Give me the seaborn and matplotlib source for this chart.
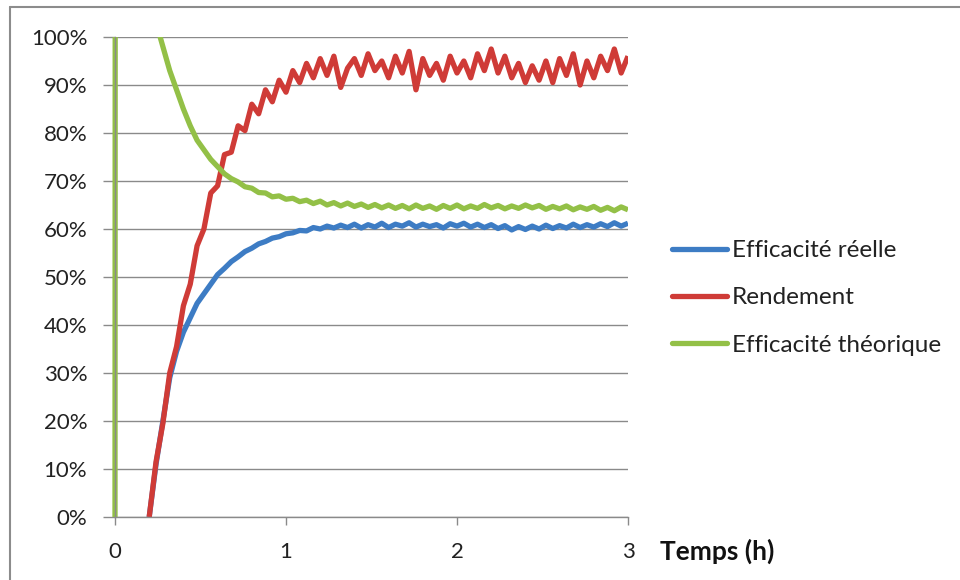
import numpy as np
import pandas as pd
import matplotlib
matplotlib.use("Agg")
import matplotlib.pyplot as plt
from matplotlib.lines import Line2D
from matplotlib.transforms import Bbox, TransformedBbox
from matplotlib.ticker import FuncFormatter
import seaborn as sns

# ---------------- data ----------------
time_h = [round(0.20 + 0.04 * i, 2) for i in range(71)]   # 0.20 .. 3.00 h

efficacite_reelle = [
    0.0, 11.0, 20.0, 29.0, 34.5, 38.5, 41.5, 44.5, 46.5, 48.5,
    50.5, 51.8, 53.2, 54.2, 55.3, 56.0, 56.9, 57.4, 58.1, 58.4,
    59.0, 59.2, 59.7, 59.6, 60.3, 60.0, 60.6, 60.2, 60.8, 60.3,
    61.0, 60.2, 60.9, 60.4, 61.2, 60.3, 61.0, 60.6, 61.3, 60.4,
    61.0, 60.5, 60.9, 60.2, 61.1, 60.6, 61.2, 60.4, 61.0, 60.3,
    60.9, 60.1, 60.7, 59.8, 60.5, 59.9, 60.6, 60.0, 60.8, 60.1,
    60.7, 60.2, 61.0, 60.3, 60.9, 60.4, 61.1, 60.5, 61.3, 60.6,
    61.2]

rendement = [
    0.0, 11.5, 19.5, 30.0, 35.5, 44.0, 48.5, 56.5, 60.0, 67.5,
    69.0, 75.5, 76.0, 81.5, 80.5, 86.0, 84.0, 89.0, 86.5, 91.0,
    88.5, 93.0, 90.5, 94.5, 91.5, 95.5, 92.0, 96.0, 89.5, 93.5,
    95.5, 92.0, 96.5, 93.0, 95.0, 91.5, 96.0, 92.5, 97.0, 89.0,
    95.5, 92.0, 94.5, 91.0, 96.0, 92.5, 95.0, 91.5, 96.5, 93.0,
    97.5, 92.5, 96.0, 91.5, 94.5, 90.5, 94.0, 91.0, 95.0, 90.5,
    95.5, 92.0, 96.5, 90.0, 95.0, 91.5, 96.0, 93.0, 97.5, 92.5,
    96.0]

# theoretical efficiency starts at t = 0 from 0 and is off-scale (>100 %) early on
time_theo_start = [0.0, 0.01, 0.10]
efficacite_theo_start = [0.0, 900.0, 250.0]
efficacite_theorique = [
    112.0, 103.0, 98.0, 93.0, 89.0, 85.0, 81.5, 78.5, 76.5, 74.5,
    73.0, 71.5, 70.5, 69.8, 68.8, 68.5, 67.6, 67.5, 66.7, 66.9,
    66.2, 66.4, 65.7, 66.0, 65.3, 65.8, 65.0, 65.5, 64.8, 65.4,
    64.7, 65.2, 64.5, 65.1, 64.4, 65.0, 64.3, 64.9, 64.2, 65.0,
    64.3, 64.8, 64.1, 64.9, 64.3, 65.0, 64.2, 64.8, 64.3, 65.1,
    64.4, 64.9, 64.2, 64.8, 64.3, 65.0, 64.4, 64.9, 64.1, 64.7,
    64.2, 64.8, 64.0, 64.6, 64.1, 64.7, 63.9, 64.5, 63.8, 64.6,
    64.0]

series_names = ["Efficacité réelle", "Rendement", "Efficacité théorique"]
series_colors = ["#3d7cc4", "#cf3b37", "#93c047"]
x_ticks = [0, 1, 2, 3]
y_ticks = [i / 10 for i in range(11)]

# ---------------- long-format table ----------------
frames = [
    pd.DataFrame({"t": time_h, "v": np.array(efficacite_reelle) / 100, "serie": series_names[0]}),
    pd.DataFrame({"t": time_h, "v": np.array(rendement) / 100, "serie": series_names[1]}),
    pd.DataFrame({"t": time_theo_start + time_h,
                  "v": np.array(efficacite_theo_start + efficacite_theorique) / 100,
                  "serie": series_names[2]}),
]
df = pd.concat(frames, ignore_index=True)

# ---------------- figure ----------------
sns.set_theme(style="white")
plt.rcParams["font.family"] = ["Lato", "DejaVu Sans"]

fig = plt.figure(figsize=(9.6, 5.8), dpi=100)
ax = fig.add_axes([115 / 960, 1 - 517 / 580, (628 - 115) / 960, (517 - 37) / 580])

LW = 3.8
sns.lineplot(data=df, x="t", y="v", hue="serie", hue_order=series_names,
             palette=series_colors, estimator=None, sort=False,
             linewidth=LW, ax=ax, legend=False)

ax.set_xlim(0, 3)
ax.set_ylim(0, 1)
ax.set_xticks(x_ticks)
ax.set_yticks(y_ticks)
ax.yaxis.set_major_formatter(FuncFormatter(lambda v, p: f"{int(round(v * 100))}%"))
ax.set_xlabel("")
ax.set_ylabel("")

grid_c = "#8a8a8a"
ax.yaxis.grid(True, color=grid_c, linewidth=1.0)
ax.xaxis.grid(False)
ax.set_axisbelow(True)
for s in ["top", "right"]:
    ax.spines[s].set_visible(False)
for s in ["left", "bottom"]:
    ax.spines[s].set_color(grid_c)
    ax.spines[s].set_linewidth(1.0)

ax.tick_params(axis="y", which="major", left=True, length=9, width=1.0, color=grid_c,
               pad=11, labelsize=16, labelcolor="#222222")
ax.tick_params(axis="x", which="major", bottom=True, length=6, width=1.0, color=grid_c,
               pad=12, labelsize=16, labelcolor="#222222")

# let lines spill slightly left so the vertical green line at t=0 is fully visible
clip = TransformedBbox(Bbox([[-0.02, 0.0], [1.0, 1.0]]), ax.transAxes)
for ln in ax.get_lines():
    ln.set_clip_box(clip)
    ln.set_solid_capstyle("butt")

# x-axis title at the right end
fig.text(660 / 960, 1 - 551 / 580, "Temps (h)", ha="left", va="center",
         fontsize=19, fontweight="bold", color="#111111")

# legend
handles = [Line2D([], [], color=c, linewidth=LW) for c in series_colors]
fig.legend(handles, series_names, loc="upper left",
           bbox_to_anchor=(672 / 960, 1 - 240 / 580), frameon=False,
           fontsize=17.5, handlelength=2.25, handletextpad=0.2,
           labelspacing=1.08, borderpad=0, borderaxespad=0,
           labelcolor="#222222")

# outer chart border (top and left edges visible)
fig.add_artist(Line2D([9.5 / 960, 1.0], [1 - 7 / 580, 1 - 7 / 580],
                      transform=fig.transFigure, color="#8c8c8c", linewidth=1.5))
fig.add_artist(Line2D([9.5 / 960, 9.5 / 960], [0.0, 1 - 7 / 580],
                      transform=fig.transFigure, color="#8c8c8c", linewidth=1.5))

fig.savefig("out.png", dpi=100, facecolor="white")
